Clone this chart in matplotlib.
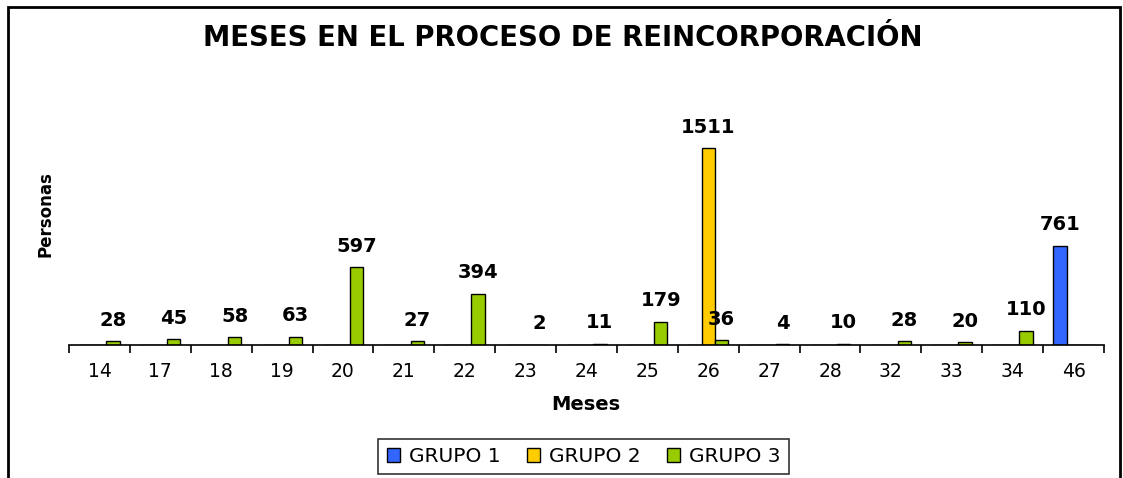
import matplotlib.pyplot as plt
from matplotlib.patches import Rectangle, Patch

# datos
meses = ['14', '17', '18', '19', '20', '21', '22', '23', '24', '25', '26', '27', '28', '32', '33', '34', '46']
grupo1 = [0, 0, 0, 0, 0, 0, 0, 0, 0, 0, 0, 0, 0, 0, 0, 0, 761]
grupo2 = [0, 0, 0, 0, 0, 0, 0, 0, 0, 0, 1511, 0, 0, 0, 0, 0, 0]
grupo3 = [28, 45, 58, 63, 597, 27, 394, 2, 11, 179, 36, 4, 10, 28, 20, 110, 0]

series = [('GRUPO 1', grupo1, '#3366FF'),
          ('GRUPO 2', grupo2, '#FFCC00'),
          ('GRUPO 3', grupo3, '#99CC00')]

W, H = 1123, 478
fig = plt.figure(figsize=(W / 100, H / 100), dpi=100)
ax = fig.add_axes([69 / W, 1 - 345 / H, (1104 - 69) / W, (345 - 110) / H])

x = list(range(len(meses)))
bw = 0.22
for k, (name, vals, col) in enumerate(series):
    pos = [i + (k - 1) * bw for i in x]
    ax.bar(pos, vals, width=bw, color=col, edgecolor='black', linewidth=1)
    for p, v in zip(pos, vals):
        if v > 0:
            ax.annotate(str(v), (p, v), xytext=(0, 15), textcoords='offset points',
                        ha='center', va='center', fontsize=14, fontweight='bold')

ax.set_xlim(-0.5, len(meses) - 0.5)
ax.set_ylim(0, 1802)
for s in ['left', 'top', 'right']:
    ax.spines[s].set_visible(False)
ax.spines['bottom'].set_linewidth(1.2)
ax.set_yticks([])
ax.set_xticks(x)
ax.set_xticklabels(meses, fontsize=13.5)
ax.tick_params(axis='x', which='major', length=0, pad=12)
ax.set_xticks([i - 0.5 for i in range(len(meses) + 1)], minor=True)
ax.tick_params(axis='x', which='minor', length=6, width=1.2, direction='out')

fig.text(563 / W, 1 - 38 / H, 'MESES EN EL PROCESO DE REINCORPORACIÓN',
         ha='center', va='center', fontsize=19.8, fontweight='bold')
fig.text(586 / W, 1 - 405 / H, 'Meses', ha='center', va='center',
         fontsize=14, fontweight='bold')
fig.text(46 / W, 1 - 214 / H, 'Personas', ha='center', va='center',
         rotation=90, fontsize=12, fontweight='bold')

handles = [Patch(facecolor=c, edgecolor='black', label=n) for n, _, c in series]
leg = fig.legend(handles=handles, loc='center', ncol=3,
                 bbox_to_anchor=(583.5 / W, 1 - 456.5 / H), fontsize=14.5,
                 frameon=True, fancybox=False, handlelength=0.65, handleheight=0.65,
                 handletextpad=0.45, columnspacing=1.3, borderpad=0.42)
leg.get_frame().set_edgecolor('black')
leg.get_frame().set_linewidth(1.2)

# marco exterior del grafico
fig.patches.append(Rectangle((8 / W, -0.1), (1120 - 8) / W, 1.1 - 7 / H,
                             transform=fig.transFigure, fill=False,
                             edgecolor='black', linewidth=2))

plt.savefig('out.png', dpi=100)
